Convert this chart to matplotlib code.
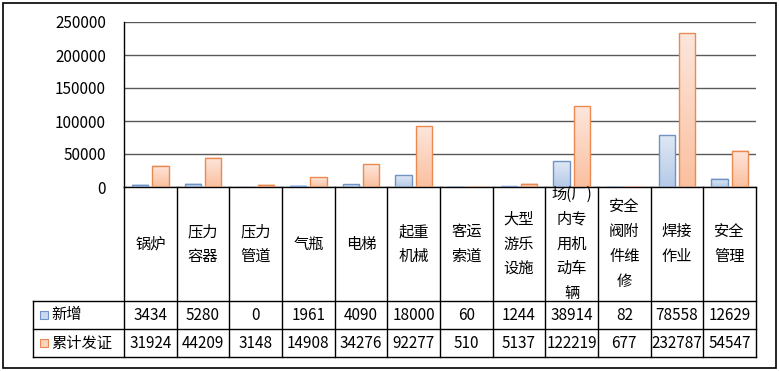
import matplotlib
matplotlib.use('Agg')
import matplotlib.pyplot as plt
import numpy as np
from matplotlib.patches import Rectangle
from matplotlib.colors import LinearSegmentedColormap

plt.rcParams['font.family'] = ['Noto Sans CJK SC', 'DejaVu Sans']

categories = ['锅炉', '压力\n容器', '压力\n管道', '气瓶', '电梯', '起重\n机械', '客运\n索道',
              '大型\n游乐\n设施', '场(厂)\n内专\n用机\n动车\n辆', '安全\n阀附\n件维\n修',
              '焊接\n作业', '安全\n管理']
series_names = ['新增', '累计发证']
new_values = [3434, 5280, 0, 1961, 4090, 18000, 60, 1244, 38914, 82, 78558, 12629]
total_values = [31924, 44209, 3148, 14908, 34276, 92277, 510, 5137, 122219, 677, 232787, 54547]
yticks = [0, 50000, 100000, 150000, 200000, 250000]

W, H = 779, 371
fig = plt.figure(figsize=(W / 100, H / 100), dpi=100)
L, R, T, B = 124, 756, 22, 187
ax = fig.add_axes([L / W, 1 - B / H, (R - L) / W, (B - T) / H])

n = len(categories)
x = np.arange(n)
colw = (R - L) / n

def ay(py):
    return (B - py) / (B - T)

def dx(px):
    return -0.5 + (px - L) / colw

blue_cmap = LinearSegmentedColormap.from_list('b', ['#b5cae7', '#dfe8f5'])
orange_cmap = LinearSegmentedColormap.from_list('o', ['#fbc09f', '#fde6dc'])
blue_edge = '#7093c5'
orange_edge = '#ea8a50'
grad = np.linspace(0, 1, 64).reshape(-1, 1)

bw = 0.31
off = 0.19
for vals, sign, cmap, ec in [(new_values, -1, blue_cmap, blue_edge),
                             (total_values, 1, orange_cmap, orange_edge)]:
    bars = ax.bar(x + sign * off, vals, width=bw, facecolor='none', edgecolor=ec,
                  linewidth=1.0, zorder=3)
    for b in bars:
        h = b.get_height()
        if h > 0:
            ax.imshow(grad, extent=(b.get_x(), b.get_x() + b.get_width(), 0, h),
                      origin='lower', aspect='auto', cmap=cmap, zorder=2)

ax.set_xlim(-0.5, n - 0.5)
ax.set_ylim(0, 250000)
ax.set_yticks(yticks)
ax.set_yticklabels([str(v) for v in yticks], fontsize=11)
ax.tick_params(axis='y', length=0, pad=13)
ax.set_xticks([])
ax.yaxis.grid(True, color='#595959', linewidth=1.0)
ax.set_axisbelow(True)
for s in ['top', 'right']:
    ax.spines[s].set_visible(False)
ax.spines['left'].set_color('black')
ax.spines['bottom'].set_color('black')
ax.spines['left'].set_linewidth(1.0)
ax.spines['bottom'].set_linewidth(1.0)

# data table
tr = ax.get_xaxis_transform()
row1_top, row2_top, row_bot = 301, 329, 357
legend_left = 33
kw = dict(color='black', linewidth=1.0, transform=tr, clip_on=False)
for i in range(n + 1):
    ax.plot([i - 0.5, i - 0.5], [ay(B), ay(row_bot)], **kw)
ax.plot([dx(legend_left)] * 2, [ay(row1_top), ay(row_bot)], **kw)
for py in [row1_top, row2_top, row_bot]:
    ax.plot([dx(legend_left), n - 0.5], [ay(py), ay(py)], **kw)

cat_center = (B + row1_top) / 2
for i, c in enumerate(categories):
    ax.text(i, ay(cat_center), c, transform=tr, ha='center', va='center',
            fontsize=11, linespacing=1.6, clip_on=False)

for vals, top, bot, name, cmap, ec in [
        (new_values, row1_top, row2_top, series_names[0], blue_cmap, blue_edge),
        (total_values, row2_top, row_bot, series_names[1], orange_cmap, orange_edge)]:
    cy = ay((top + bot) / 2)
    for i, v in enumerate(vals):
        ax.text(i, cy, str(v), transform=tr, ha='center', va='center',
                fontsize=11, clip_on=False)
    sq = Rectangle((dx(40), cy - 4 / (B - T)), 8 / colw, 8 / (B - T), transform=tr,
                   facecolor=cmap(0.5), edgecolor=ec, linewidth=0.8, clip_on=False)
    ax.add_patch(sq)
    ax.text(dx(51), cy, name, transform=tr, ha='left', va='center', fontsize=11,
            clip_on=False)

# outer border
fig.add_artist(Rectangle((2.5 / W, 1 - 368 / H), (776 - 2.5) / W, (368 - 2.5) / H,
                         transform=fig.transFigure, facecolor='none',
                         edgecolor='black', linewidth=1.2))

fig.savefig('out.png', dpi=100)
